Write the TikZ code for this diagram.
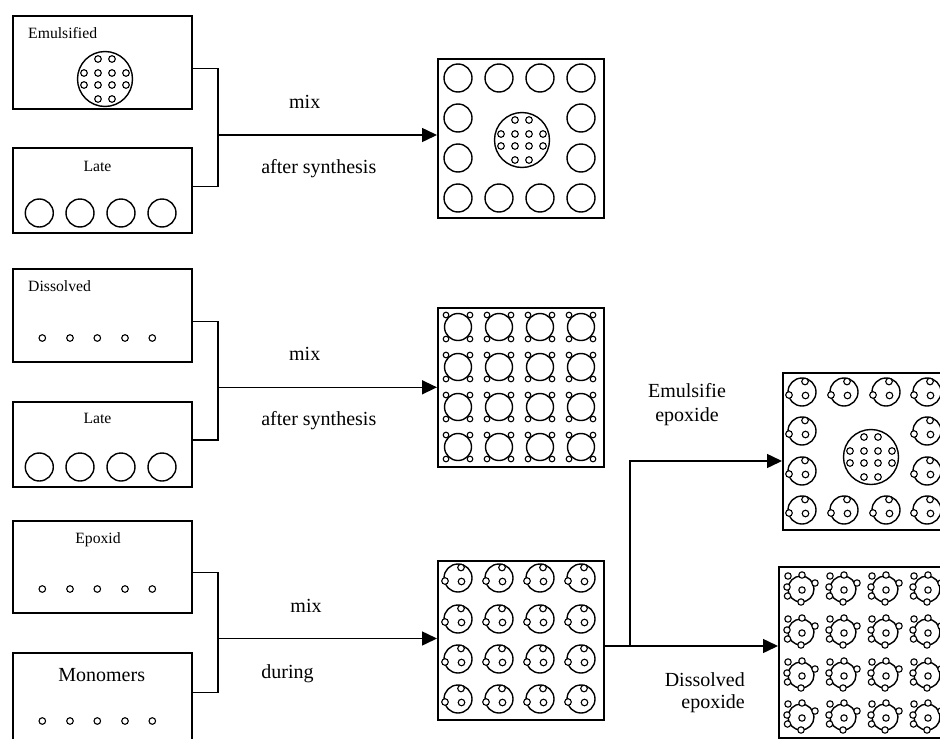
\documentclass[tikz,border=0pt]{standalone}
\usepackage{fontspec}
\setmainfont{Liberation Serif}
\usetikzlibrary{arrows.meta,calc}
\newcommand\smfnt{\fontsize{15.7}{18}\selectfont}
\newcommand\bgfnt{\fontsize{20}{24}\selectfont}
\begin{document}
\begin{tikzpicture}[x=1pt,y=-1pt,
  box/.style={draw,line width=1.6pt,rectangle,inner sep=0pt,anchor=north west},
  pc/.style={line width=1.4pt},
  dc/.style={line width=1.1pt},
  con/.style={line width=1.5pt},
  arr/.style={con,-{Triangle[length=15pt,width=14pt]}},
  lab/.style={inner sep=0pt,anchor=base,font=\bgfnt},
  slab/.style={inner sep=0pt,anchor=base,font=\smfnt},
  plain/.pic={\draw[pc] (0,0) circle[radius=14pt];},
  dot/.pic={\draw[dc] (0,0) circle[radius=3.3pt];},
  drop/.pic={\draw[pc] (0,0) circle[radius=27.5pt];
    \foreach \x/\y in {-7/-20,7/-20,-21/-6,-7/-6,7/-6,21/-6,-21/6,-7/6,7/6,21/6,-7/20,7/20}
      \draw[dc] (\x,\y) circle[radius=3.3pt];},
  quad/.pic={\draw[pc] (0,0) circle[radius=13.5pt];
    \foreach \x/\y in {-12/-12,12/-12,-12/12,12/12}
      \draw[dc,fill=white] (\x,\y) circle[radius=2.8pt];},
  epx/.pic={\draw[pc] (0,0) circle[radius=14pt];
    \foreach \x/\y in {3/-10.5,-13/3,3.5/3.5}
      \draw[dc,fill=white] (\x,\y) circle[radius=3.3pt];},
  dep/.pic={\draw[pc] (0,0) circle[radius=13pt];
    \foreach \x/\y in {-13/-13,1/-14,14/-6,-14/-2,-13.5/7,0/13,1/1}
      \draw[dc,fill=white] (\x,\y) circle[radius=3.2pt];}
]
\useasboundingbox (0,0) rectangle (940,739);

% left boxes
\node[box,minimum width=179pt,minimum height=93pt] (b1) at (12,15) {};
\node[box,minimum width=179pt,minimum height=85pt] (b2) at (12,147) {};
\node[box,minimum width=179pt,minimum height=93pt] (b3) at (12,268) {};
\node[box,minimum width=179pt,minimum height=85pt] (b4) at (12,401) {};
\node[box,minimum width=179pt,minimum height=92pt] (b5) at (12,520) {};
\node[box,minimum width=179pt,minimum height=93pt] (b6) at (12,652) {};

% result boxes
\node[box,minimum width=166pt,minimum height=159pt] (r1) at (437,58) {};
\node[box,minimum width=166pt,minimum height=159pt] (r2) at (437,307) {};
\node[box,minimum width=166pt,minimum height=159pt] (r3) at (437,560) {};
\node[box,minimum width=166pt,minimum height=157pt] (r4) at (782,372) {};
\node[box,minimum width=166pt,minimum height=171pt] (r5) at (778,566) {};

% box labels
\node[slab,anchor=base west] (tEm) at (28,38) {Emulsified};
\node[slab] (tL1) at (97.5,171) {Late};
\node[slab,anchor=base west] (tDi) at (28,291) {Dissolved};
\node[slab] (tL2) at (97.5,423) {Late};
\node[slab] (tEp) at (98,543) {Epoxid};
\node[lab] (tMo) at (101.7,681) {Monomers};

% box contents
\pic at (105,79) {drop};
\foreach \x in {39.3,80,121,162} {\pic at (\x,213) {plain}; \pic at (\x,467) {plain};}
\foreach \x in {42.3,70,97.3,125,152.3} {\pic at (\x,338) {dot}; \pic at (\x,589) {dot}; \pic at (\x,721) {dot};}

% r1
\foreach \x in {458,499,540,581} {\pic at (\x,78) {plain}; \pic at (\x,198) {plain};}
\foreach \y in {118,158} {\pic at (458,\y) {plain}; \pic at (581,\y) {plain};}
\pic at (522,140) {drop};
% r2
\foreach \x in {458,499,540,581} \foreach \y in {327,367,407,447} \pic at (\x,\y) {quad};
% r3
\foreach \x in {458,499,540,581} \foreach \y in {578,619,659,699} \pic at (\x,\y) {epx};
% r4
\foreach \x in {802,844,886,927} {\pic at (\x,392) {epx}; \pic at (\x,510) {epx};}
\foreach \y in {431,471} {\pic at (802,\y) {epx}; \pic at (927,\y) {epx};}
\pic at (871,457) {drop};
% r5
\foreach \x in {801,843,885,927} \foreach \y in {589,632,675,717} \pic at (\x,\y) {dep};

% connectors
\coordinate (j1t) at (218,68.3);  \coordinate (j1b) at (218,186.7); \coordinate (j1) at (218,135);
\coordinate (j2t) at (218,321.7); \coordinate (j2b) at (218,440);   \coordinate (j2) at (218,387.3);
\coordinate (j3t) at (218,572.3); \coordinate (j3b) at (218,692.3); \coordinate (j3) at (218,638.5);
\draw[con] (j1t -| b1.east) -- (j1t) -- (j1b) -- (j1b -| b2.east);
\draw[con] (j2t -| b3.east) -- (j2t) -- (j2b) -- (j2b -| b4.east);
\draw[con] (j3t -| b5.east) -- (j3t) -- (j3b) -- (j3b -| b6.east);
\draw[arr] (j1) -- (j1 -| r1.west);
\draw[arr] (j2) -- (j2 -| r2.west);
\draw[arr] (j3) -- (j3 -| r3.west);
\coordinate (k) at (630,646); \coordinate (k2) at (630,461);
\draw[con] (k -| r3.east) -- (k);
\draw[arr] (k) -- (k -| r5.west);
\draw[arr] (k) -- (k2) -- (k2 -| r4.west);

% connector labels
\node[lab] (m1) at (304.7,108) {mix};
\node[lab] (a1) at (318.8,173) {after synthesis};
\node[lab] (m2) at (304.7,360) {mix};
\node[lab] (a2) at (318.8,425) {after synthesis};
\node[lab] (m3) at (306,612.5) {mix};
\node[lab] (d3) at (287.5,678) {during};
\node[lab] (e1) at (687,397) {Emulsifie};
\node[lab] (e2) at (687,421) {epoxide};
\node[lab,anchor=base east] (e3) at (745,686) {Dissolved};
\node[lab,anchor=base east] (e4) at (745,708) {epoxide};
\end{tikzpicture}
\end{document}
